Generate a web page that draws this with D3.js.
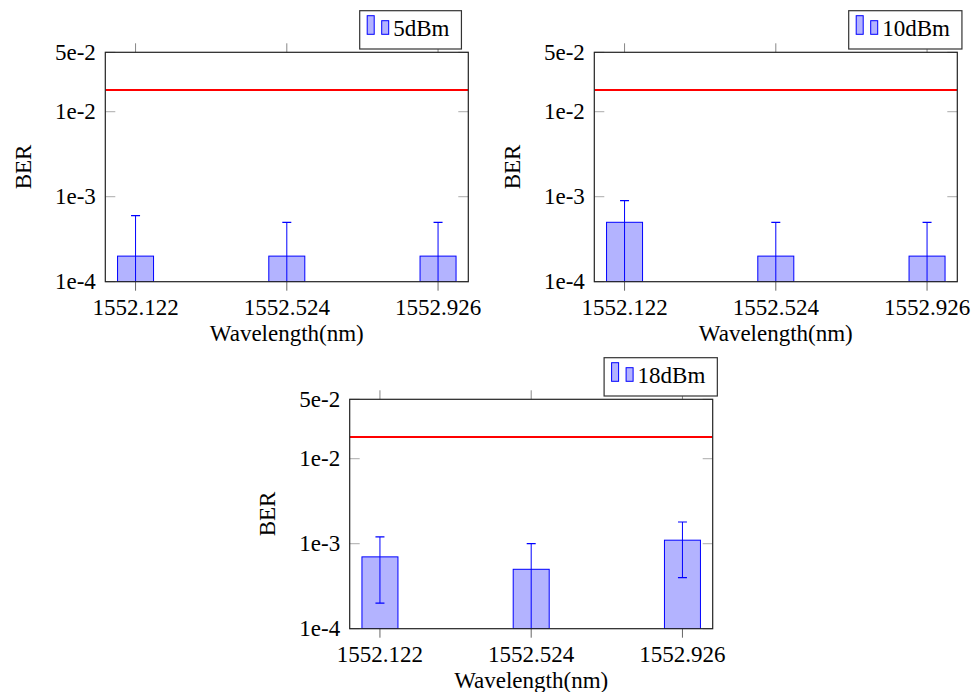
<!DOCTYPE html>
<html lang="en">
<head>
    <meta charset="utf-8">
    <title>BER vs wavelength</title>
    <style type="text/css">
        body { margin: 0; background: #fff; }
        svg text { font-family: "Liberation Serif", "Times New Roman", serif; font-size: 23px; fill: #000; }
    </style>
</head>
<body>
   <svg class="svg_ber" width="980" height="692"></svg>

   <script src="https://d3js.org/d3.v7.min.js"></script>
   <script>
        // 数据
        var wavelengths = ['1552.122', '1552.524', '1552.926'];
        var yTicks = [1e-4, 1e-3, 1e-2, 5e-2];
        var yTickLabels = ['1e-4', '1e-3', '1e-2', '5e-2'];
        var threshold = 1.8e-2;

        var powers = ['5dBm', '10dBm', '18dBm'];
        var ber5 = [2e-4, 2e-4, 2e-4];
        var err5 = [4e-4, 3e-4, 3e-4];
        var ber10 = [5e-4, 2e-4, 2e-4];
        var err10 = [4e-4, 3e-4, 3e-4];
        var ber18 = [7e-4, 5e-4, 1.1e-3];
        var err18 = [5e-4, 5e-4, 7e-4];

        var svg = d3.select('.svg_ber'),
            plot_w = 363,
            plot_h = 229.4;

        // 三个子图的位置
        var panels = [
            {left: 105.3, top: 52.3, name: powers[0], ber: ber5, err: err5},
            {left: 594.3, top: 52.3, name: powers[1], ber: ber10, err: err10},
            {left: 349.7, top: 399.3, name: powers[2], ber: ber18, err: err18}
        ];

        var x = d3.scalePoint().domain(wavelengths).range([0, plot_w]).padding(0.2),
            y = d3.scaleLog().domain([1e-4, 5e-2]).range([plot_h, 0]);

        var barW = 36, capW = 9;

        svg.append('defs').append('clipPath')
            .attr('id', 'clip')
            .append('rect')
            .attr('width', plot_w)
            .attr('height', plot_h);

        panels.forEach(function(p, i) {
            var g = svg.append('g')
                .attr('transform', 'translate(' + p.left + ',' + p.top + ')');

            var data = wavelengths.map(function(w, j) {
                return {w: w, v: p.ber[j], e: p.err[j]};
            });

            // y 刻度 (内侧, 两边)
            g.selectAll('.ytick-l').data(yTicks).enter().append('line')
                .attr('x1', 0).attr('x2', 10)
                .attr('y1', function(d) { return y(d); })
                .attr('y2', function(d) { return y(d); })
                .attr('stroke', '#aaa').attr('stroke-width', 1);
            g.selectAll('.ytick-r').data(yTicks).enter().append('line')
                .attr('x1', plot_w - 10).attr('x2', plot_w)
                .attr('y1', function(d) { return y(d); })
                .attr('y2', function(d) { return y(d); })
                .attr('stroke', '#aaa').attr('stroke-width', 1);

            // x 刻度 (外侧, 上下)
            g.selectAll('.xtick-b').data(wavelengths).enter().append('line')
                .attr('x1', function(d) { return x(d); })
                .attr('x2', function(d) { return x(d); })
                .attr('y1', plot_h).attr('y2', plot_h + 9)
                .attr('stroke', '#666').attr('stroke-width', 1);
            g.selectAll('.xtick-t').data(wavelengths).enter().append('line')
                .attr('x1', function(d) { return x(d); })
                .attr('x2', function(d) { return x(d); })
                .attr('y1', 0).attr('y2', -9)
                .attr('stroke', '#888').attr('stroke-width', 1);

            var inner = g.append('g').attr('clip-path', 'url(#clip)');

            // 柱子
            inner.selectAll('.bar').data(data).enter().append('rect')
                .attr('x', function(d) { return x(d.w) - barW / 2; })
                .attr('y', function(d) { return y(d.v); })
                .attr('width', barW)
                .attr('height', function(d) { return plot_h - y(d.v); })
                .attr('fill', '#b3b3ff')
                .attr('stroke', '#0000ff')
                .attr('stroke-width', 1);

            // 误差线
            var lo = function(d) { return d.v - d.e > 0 ? y(d.v - d.e) : plot_h + 20; };
            inner.selectAll('.err').data(data).enter().append('line')
                .attr('x1', function(d) { return x(d.w); })
                .attr('x2', function(d) { return x(d.w); })
                .attr('y1', function(d) { return y(d.v + d.e); })
                .attr('y2', lo)
                .attr('stroke', '#0000ff').attr('stroke-width', 1);
            inner.selectAll('.cap-t').data(data).enter().append('line')
                .attr('x1', function(d) { return x(d.w) - capW / 2; })
                .attr('x2', function(d) { return x(d.w) + capW / 2; })
                .attr('y1', function(d) { return y(d.v + d.e); })
                .attr('y2', function(d) { return y(d.v + d.e); })
                .attr('stroke', '#0000ff').attr('stroke-width', 1.2);
            inner.selectAll('.cap-b').data(data.filter(function(d) { return d.v - d.e > 1e-4; }))
                .enter().append('line')
                .attr('x1', function(d) { return x(d.w) - capW / 2; })
                .attr('x2', function(d) { return x(d.w) + capW / 2; })
                .attr('y1', function(d) { return y(d.v - d.e); })
                .attr('y2', function(d) { return y(d.v - d.e); })
                .attr('stroke', '#0000ff').attr('stroke-width', 1.2);

            // 阈值线
            inner.append('line')
                .attr('x1', 0).attr('x2', plot_w)
                .attr('y1', y(threshold)).attr('y2', y(threshold))
                .attr('stroke', '#ff0000').attr('stroke-width', 2);

            // 边框
            g.append('rect')
                .attr('width', plot_w).attr('height', plot_h)
                .attr('fill', 'none').attr('stroke', '#222').attr('stroke-width', 1.2);

            // 刻度文字
            g.selectAll('.xl').data(wavelengths).enter().append('text')
                .attr('x', function(d) { return x(d); })
                .attr('y', plot_h + 33.5)
                .attr('text-anchor', 'middle')
                .text(function(d) { return d; });
            g.selectAll('.yl').data(yTicks).enter().append('text')
                .attr('x', -9.5)
                .attr('y', function(d) { return y(d) + 7.5; })
                .attr('text-anchor', 'end')
                .text(function(d, j) { return yTickLabels[j]; });

            // 轴标题
            g.append('text')
                .attr('x', plot_w / 2).attr('y', plot_h + 59.5)
                .attr('text-anchor', 'middle')
                .text('Wavelength(nm)');
            g.append('text')
                .attr('transform', 'translate(-74.6,' + plot_h / 2 + ') rotate(-90)')
                .attr('text-anchor', 'middle')
                .text('BER');

            // 图例
            var lg = g.append('g').attr('transform', 'translate(254.4,-41.6)');
            var txt = lg.append('text')
                .attr('x', 33.5).attr('y', 25)
                .text(p.name);
            var tw = txt.node().getComputedTextLength();
            lg.insert('rect', 'text')
                .attr('width', 33.5 + tw + 12).attr('height', 38.3)
                .attr('fill', '#fff').attr('stroke', '#333').attr('stroke-width', 1.2);
            lg.append('rect')
                .attr('x', 7.5).attr('y', 5).attr('width', 7).attr('height', 18.6)
                .attr('fill', '#b3b3ff').attr('stroke', '#0000ff').attr('stroke-width', 1);
            lg.append('rect')
                .attr('x', 22).attr('y', 10).attr('width', 7).attr('height', 13.6)
                .attr('fill', '#b3b3ff').attr('stroke', '#0000ff').attr('stroke-width', 1);
        });
   </script>
</body>
</html>
